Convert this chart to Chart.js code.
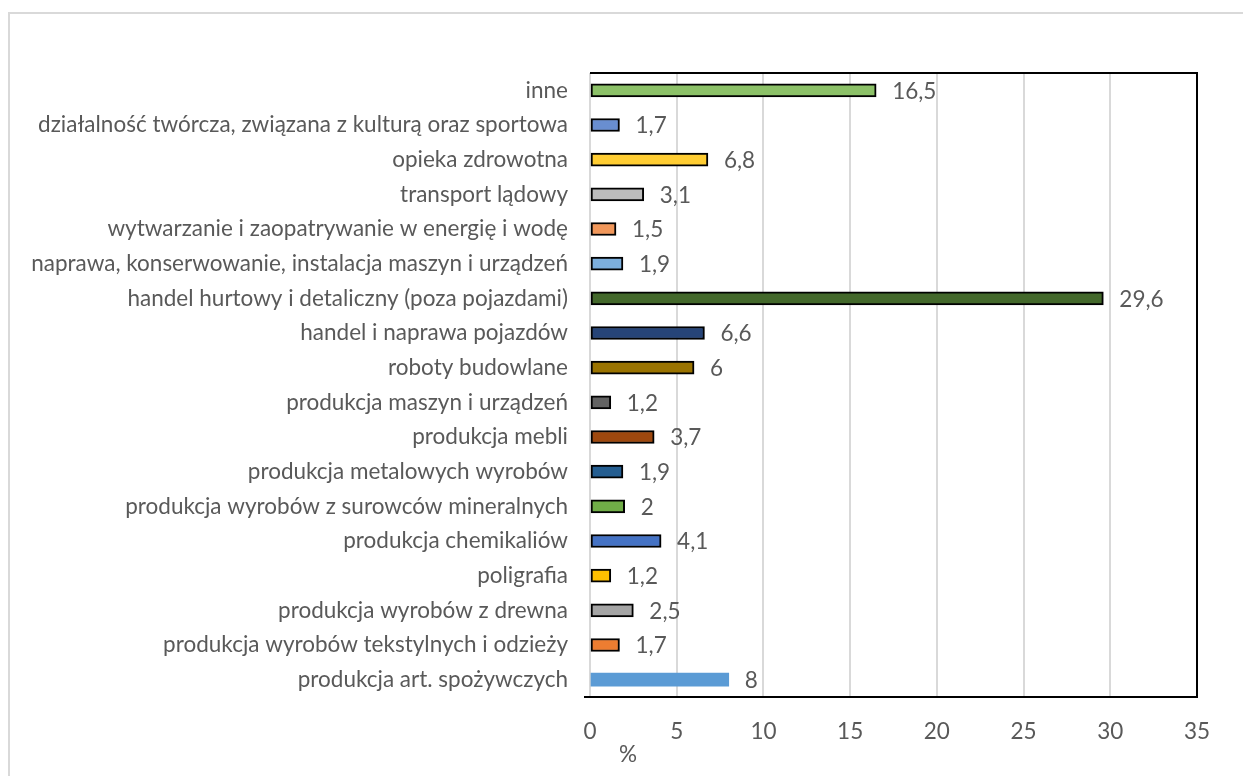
<!DOCTYPE html>
<html>
<head>
<meta charset="utf-8">
<script src="https://cdn.jsdelivr.net/npm/chart.js@4/dist/chart.umd.min.js"></script>
<style>
  html, body { margin: 0; padding: 0; background: #fff; }
  #wrap { position: relative; width: 1243px; height: 776px; }
  canvas { display: block; }
</style>
</head>
<body>
<div id="wrap"><canvas id="c" width="1243" height="776"></canvas></div>
<script>
const categories = [
  "inne",
  "działalność twórcza, związana z kulturą oraz sportowa",
  "opieka zdrowotna",
  "transport lądowy",
  "wytwarzanie i zaopatrywanie w energię i wodę",
  "naprawa, konserwowanie, instalacja maszyn i urządzeń",
  "handel hurtowy i detaliczny (poza pojazdami)",
  "handel i naprawa pojazdów",
  "roboty budowlane",
  "produkcja maszyn i urządzeń",
  "produkcja mebli",
  "produkcja metalowych wyrobów",
  "produkcja wyrobów z surowców mineralnych",
  "produkcja chemikaliów",
  "poligrafia",
  "produkcja wyrobów z drewna",
  "produkcja wyrobów tekstylnych i odzieży",
  "produkcja art. spożywczych"
];
const values = [16.5, 1.7, 6.8, 3.1, 1.5, 1.9, 29.6, 6.6, 6, 1.2, 3.7, 1.9, 2, 4.1, 1.2, 2.5, 1.7, 8];
const barColors = [
  "#8CC168", "#698ED0", "#FFCD33", "#BCBCBC", "#F1975A", "#7CAFDD",
  "#43682B", "#264478", "#9A7300", "#636363", "#9E480E", "#255E91",
  "#70AD47", "#4472C4", "#FFC000", "#A5A5A5", "#ED7D31", "#5B9BD5"
];
const borderWidths = [2,2,2,2,2,2,2,2,2,2,2,2,2,2,2,2,2,0];
const xTicks = [0, 5, 10, 15, 20, 25, 30, 35];
const axisTitle = "%";

const FONT = "Lato, 'Open Sans', sans-serif";
const FSIZE = 22.5;
const TXT = "#595959";

const framePlugin = {
  id: 'frame',
  beforeDraw(chart) {
    const ctx = chart.ctx;
    ctx.save();
    ctx.fillStyle = '#fff';
    ctx.fillRect(0, 0, chart.width, chart.height);
    ctx.strokeStyle = '#d9d9d9';
    ctx.lineWidth = 2;
    ctx.beginPath();
    ctx.moveTo(9, chart.height);
    ctx.lineTo(9, 13);
    ctx.lineTo(chart.width, 13);
    ctx.stroke();
    ctx.restore();
  },
  afterDraw(chart) {
    const ctx = chart.ctx;
    const a = chart.chartArea;
    ctx.save();
    ctx.strokeStyle = '#000';
    ctx.lineWidth = 2;
    ctx.beginPath();
    ctx.moveTo(a.left, a.top);
    ctx.lineTo(a.right, a.top);
    ctx.lineTo(a.right, a.bottom);
    ctx.lineTo(a.left - 6, a.bottom);
    ctx.stroke();
    ctx.fillStyle = TXT;
    ctx.font = FSIZE + "px " + FONT;
    ctx.textAlign = 'center';
    ctx.textBaseline = 'middle';
    ctx.fillText(axisTitle, a.left + 38, a.bottom + 58);
    ctx.restore();
  }
};

const labelPlugin = {
  id: 'vlabels',
  afterDatasetsDraw(chart) {
    const ctx = chart.ctx;
    const meta = chart.getDatasetMeta(0);
    ctx.save();
    ctx.fillStyle = TXT;
    ctx.font = FSIZE + "px " + FONT;
    ctx.textAlign = 'left';
    ctx.textBaseline = 'middle';
    meta.data.forEach((bar, i) => {
      const txt = String(values[i]).replace('.', ',');
      ctx.fillText(txt, bar.x + 16, bar.y + 1);
    });
    ctx.restore();
  }
};

new Chart(document.getElementById('c'), {
  type: 'bar',
  data: {
    labels: categories,
    datasets: [{
      data: values,
      backgroundColor: barColors,
      borderColor: '#000',
      borderWidth: borderWidths,
      borderSkipped: false,
      barThickness: 13
    }]
  },
  options: {
    indexAxis: 'y',
    responsive: false,
    animation: false,
    layout: { padding: { top: 73, right: 46, left: 0, bottom: 0 } },
    plugins: { legend: { display: false }, tooltip: { enabled: false } },
    scales: {
      x: {
        min: 0, max: 35,
        afterBuildTicks(scale) { scale.ticks = xTicks.map(v => ({ value: v })); },
        afterFit(scale) { scale.height = 79; },
        grid: { color: '#d9d9d9', lineWidth: 2, drawTicks: false },
        border: { display: false },
        ticks: { color: TXT, font: { family: FONT, size: FSIZE }, padding: 21, maxRotation: 0 }
      },
      y: {
        afterFit(scale) { scale.width = 590; },
        grid: { display: false, drawTicks: false },
        border: { display: false },
        ticks: { color: TXT, font: { family: FONT, size: FSIZE }, padding: 22, autoSkip: false }
      }
    }
  },
  plugins: [framePlugin, labelPlugin]
});
</script>
</body>
</html>
